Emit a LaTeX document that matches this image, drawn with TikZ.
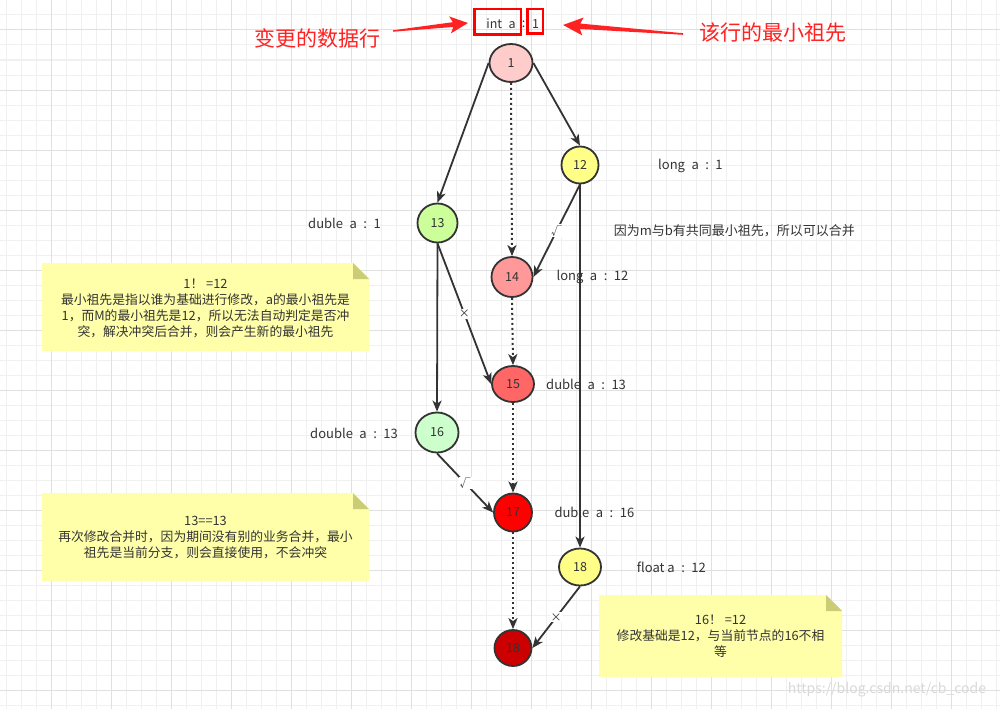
\documentclass[tikz,border=0pt]{standalone}
\usepackage{fontspec}
\setmainfont{Noto Sans CJK SC}
\usetikzlibrary{shapes.geometric,arrows.meta}
\newcommand{\gp}{\hspace{6.5pt}}
\definecolor{ink}{HTML}{333333}
\definecolor{gminor}{HTML}{F0F0F0}
\definecolor{gmajor}{HTML}{E0E0E0}
\definecolor{redtxt}{HTML}{FF2222}
\definecolor{notefill}{HTML}{FFFFAA}
\definecolor{notefold}{HTML}{CCCC77}
\definecolor{cA}{HTML}{FFCCCC}
\definecolor{cB}{HTML}{FFFF88}
\definecolor{cC}{HTML}{CCFF99}
\definecolor{cD}{HTML}{FF9999}
\definecolor{cE}{HTML}{FF6666}
\definecolor{cF}{HTML}{CCFFCC}
\definecolor{cG}{HTML}{FF0000}
\definecolor{cH}{HTML}{CC0000}
\definecolor{wm}{HTML}{D9D9D9}
\begin{document}
\begin{tikzpicture}[x=1pt,y=-1pt,
  state/.style={ellipse, draw=ink, line width=1.8pt, inner sep=0pt, text=ink, font=\fontsize{12.5}{14}\selectfont},
  conn/.style={draw=ink, line width=1.8pt, -{Stealth[length=11pt,width=9pt,inset=3pt]}},
  dotconn/.style={conn, line width=2pt, dash pattern=on 2pt off 3pt},
  lbl/.style={text=ink, inner sep=0pt, anchor=west, font=\fontsize{13}{15}\selectfont},
  tick/.style={fill=white, inner sep=1pt, text=ink, font=\fontsize{11}{12}\selectfont},
  notetext/.style={text=ink, align=center, font=\fontsize{12.8}{16}\selectfont, inner sep=0pt},
  redbox/.style={draw=red, line width=2.5pt, inner sep=0pt},
  bigred/.style={text=redtxt, font=\fontsize{21}{24}\selectfont, inner sep=0pt},
  toptext/.style={text=ink, font=\fontsize{12.5}{14}\selectfont, inner sep=0pt}
]
\useasboundingbox (0,0) rectangle (1000,709);
\fill[white] (0,0) rectangle (1000,709);
% grid
\foreach \x in {6,21,...,996} \draw[gminor, line width=1pt] (\x,0) -- (\x,709);
\foreach \y in {0,15,...,705} \draw[gminor, line width=1pt] (0,\y) -- (1000,\y);
\foreach \x in {51,111,...,951} \draw[gmajor, line width=1pt] (\x,0) -- (\x,709);
\foreach \y in {30,90,...,690} \draw[gmajor, line width=1pt] (0,\y) -- (1000,\y);

% notes
\fill[notefill] (42,263) -- (353,263) -- (369,279) -- (369,351) -- (42,351) -- cycle;
\fill[notefold] (353,263) -- (369,279) -- (353,279) -- cycle;
\fill[notefill] (42,493) -- (353,493) -- (369,509) -- (369,581) -- (42,581) -- cycle;
\fill[notefold] (353,493) -- (369,509) -- (353,509) -- cycle;
\fill[notefill] (599,595) -- (826,595) -- (842,611) -- (842,677) -- (599,677) -- cycle;
\fill[notefold] (826,595) -- (842,611) -- (826,611) -- cycle;

\node[notetext] (noteA) at (205.5,308) {1！ =12\\最小祖先是指以谁为基础进行修改，a的最小祖先是\\1，而M的最小祖先是12，所以无法自动判定是否冲\\突，解决冲突后合并，则会产生新的最小祖先};
\node[notetext] (noteB) at (205.5,538) {13==13\\再次修改合并时，因为期间没有别的业务合并，最小\\祖先是当前分支，则会直接使用，不会冲突};
\node[notetext] (noteC) at (720.5,636.5) {16！ =12\\修改基础是12，与当前节点的16不相\\等};

% top
\node[redbox, minimum width=46.5pt, minimum height=25.5pt] (boxA) at (497.5,22) {};
\node[redbox, minimum width=15.5pt, minimum height=24.5pt] (boxB) at (535,21.5) {};
\node[toptext] (tA) at (501,24) {int\gp a};
\node[toptext] (tColon) at (523.5,24) {:};
\node[toptext] (tB) at (535.5,24) {1};
\node[bigred] (rl) at (317,38) {变更的数据行};
\node[bigred] (rr) at (772.5,33) {该行的最小祖先};
\begin{scope}[shift={(393,31)}, rotate=6.1]
  \fill[redtxt] (0,-0.7) -- (60.4,-2.4) -- (57.4,-8.5) -- (75.4,0) -- (57.4,8.5) -- (60.4,2.4) -- (0,0.7) -- cycle;
\end{scope}
\begin{scope}[shift={(683,34)}, rotate=175.7]
  \fill[redtxt] (0,-0.8) -- (103.3,-2.7) -- (100.3,-9) -- (120.3,0) -- (100.3,9) -- (103.3,2.7) -- (0,0.8) -- cycle;
\end{scope}

% states
\node[state, fill=cA, minimum width=43pt, minimum height=38pt] (n1) at (511,63) {1};
\node[state, fill=cB, minimum width=37pt, minimum height=37pt] (n12) at (580,165) {12};
\node[state, fill=cC, minimum width=40pt, minimum height=39pt] (n13) at (437.5,223) {13};
\node[state, fill=cD, minimum width=41pt, minimum height=40pt] (n14) at (512,277) {14};
\node[state, fill=cE, minimum width=42pt, minimum height=36pt] (n15) at (513,384) {15};
\node[state, fill=cF, minimum width=43pt, minimum height=40pt] (n16) at (437,432.5) {16};
\node[state, fill=cG, minimum width=38pt, minimum height=38pt] (n17) at (513,512.5) {17};
\node[state, fill=cB, minimum width=42pt, minimum height=37pt] (n18) at (580,567) {18};
\node[state, fill=cH, minimum width=37pt, minimum height=36pt] (n19) at (513,648) {18};

% connectors
\draw[conn] (n1.west) -- (n13.north);
\draw[conn] (n1.east) -- (n12.north);
\draw[dotconn] (n1.south) -- (n14.north);
\draw[conn] (n12.south) -- node[tick] {√} (n14.east);
\draw[conn] (n12.south) -- (n18.north);
\draw[conn] (n13.south) -- (n16.north);
\draw[conn] (n13.south) -- node[tick] {×} (n15.west);
\draw[dotconn] (n14.south) -- (n15.north);
\draw[dotconn] (n15.south) -- (n17.north);
\draw[conn] (n16.south) -- node[tick] {√} (n17.west);
\draw[dotconn] (n17.south) -- (n19.north);
\draw[conn] (n18.south) -- node[tick] {×} (n19.east);

% labels
\node[lbl] (l13) at (308,223) {duble\gp a\gp :\gp 1};
\node[lbl] (l12) at (658,166) {long\gp a\gp :\gp 1};
\node[lbl] (lm) at (613.7,231) {因为m与b有共同最小祖先，所以可以合并};
\node[lbl] (l14) at (556.4,277) {long\gp a\gp :\gp 12};
\node[lbl] (l15) at (546,384) {duble\gp a\gp :\gp 13};
\node[lbl] (l16) at (310,433) {double\gp a\gp :\gp 13};
\node[lbl] (l17) at (554.3,512) {duble\gp a\gp :\gp 16};
\node[lbl] (l18) at (636.7,567.5) {float a\gp :\gp 12};

\node[text=wm, font=\fontsize{14}{16}\selectfont, inner sep=0pt] (wmark) at (887,690) {https://blog.csdn.net/cb\_code};
\end{tikzpicture}
\end{document}
